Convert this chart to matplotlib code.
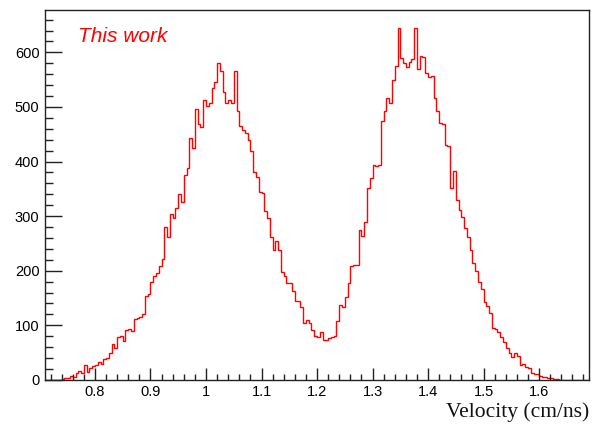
import numpy as np
import matplotlib.pyplot as plt
from matplotlib.ticker import MultipleLocator

# histogram: 196 bins of 0.005 cm/ns from 0.71 to 1.69
v_min = 0.71
v_max = 1.69
counts = [
    0, 0, 0, 0, 0, 0, 1, 3, 4, 8,
    5, 13, 16, 12, 28, 15, 22, 25, 27, 33,
    30, 38, 40, 49, 65, 58, 79, 80, 71, 92,
    93, 89, 112, 113, 115, 120, 154, 158, 179, 191,
    196, 208, 222, 280, 262, 303, 296, 315, 340, 325,
    375, 388, 443, 425, 497, 468, 463, 512, 502, 508,
    535, 545, 580, 565, 527, 508, 512, 508, 565, 492,
    466, 458, 453, 439, 420, 380, 372, 345, 342, 309,
    296, 262, 238, 254, 238, 197, 191, 178, 178, 162,
    144, 144, 134, 104, 110, 104, 92, 80, 78, 87,
    74, 74, 76, 78, 80, 107, 137, 133, 151, 177,
    208, 211, 211, 274, 264, 290, 351, 370, 394, 392,
    394, 474, 492, 517, 507, 550, 575, 645, 590, 580,
    574, 582, 587, 645, 570, 594, 592, 562, 555, 557,
    516, 492, 471, 469, 430, 429, 351, 383, 330, 312,
    298, 278, 262, 238, 215, 199, 180, 166, 142, 135,
    122, 95, 93, 87, 78, 70, 58, 49, 42, 50,
    44, 27, 30, 23, 21, 13, 11, 11, 7, 6,
    5, 4, 3, 2, 1, 0, 0, 0, 0, 0,
    0, 0, 0, 0, 0, 0,
]
edges = np.linspace(v_min, v_max, len(counts) + 1)

x_label = 'Velocity (cm/ns)'
tag = 'This work'

fig = plt.figure(figsize=(5.92, 4.24), dpi=100)
ax = fig.add_axes([0.076, 0.104, 0.919, 0.872])

ax.stairs(counts, edges, color='red', lw=1.0)

ax.set_xlim(v_min, v_max)
ax.set_ylim(0, 1.05 * max(counts))

# ROOT-like ticks
ax.xaxis.set_major_locator(MultipleLocator(0.1))
ax.xaxis.set_minor_locator(MultipleLocator(0.02))
ax.yaxis.set_major_locator(MultipleLocator(100))
ax.yaxis.set_minor_locator(MultipleLocator(20))
ax.tick_params(axis='both', which='both', direction='in', top=False, right=False,
               color='#222222', width=1.0)
ax.tick_params(axis='x', which='major', length=8.5, pad=4)
ax.tick_params(axis='x', which='minor', length=4.5)
ax.tick_params(axis='y', which='major', length=12, pad=4)
ax.tick_params(axis='y', which='minor', length=6)
for lab in ax.get_xticklabels() + ax.get_yticklabels():
    lab.set_fontfamily('Liberation Sans')
    lab.set_fontsize(10.5)
ax.xaxis.set_major_formatter(plt.FuncFormatter(lambda v, p: f'{v:g}'))

for s in ax.spines.values():
    s.set_color('#222222')
    s.set_linewidth(1.0)

fig.text(0.995, 0.004, x_label, ha='right', va='bottom',
         fontfamily='Liberation Serif', fontsize=15.5, color='#111111')
ax.text(0.06, 0.955, tag, transform=ax.transAxes, ha='left', va='top',
        fontfamily='Liberation Sans', fontstyle='italic', fontsize=15, color='red')

fig.savefig('out.png', dpi=100)
